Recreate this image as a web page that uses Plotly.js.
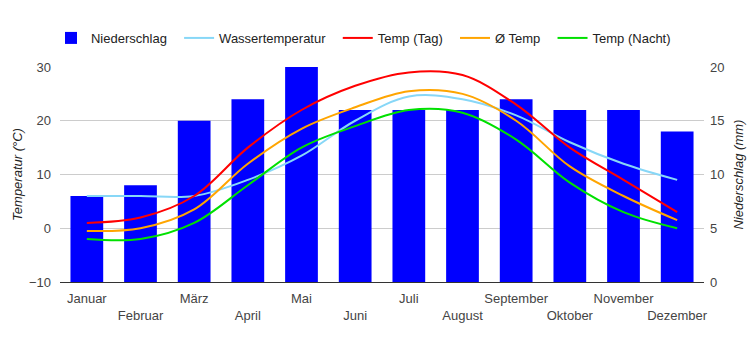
<!DOCTYPE html>
<html>
<head>
<meta charset="utf-8">
<script src="https://cdn.plot.ly/plotly-3.0.1.min.js"></script>
<style>html,body{margin:0;padding:0;background:#fff;}#chart{width:750px;height:350px;}</style>
</head>
<body>
<div id="chart"></div>
<script>
const months = ["Januar","Februar","März","April","Mai","Juni","Juli","August","September","Oktober","November","Dezember"];
const niederschlag = [8, 9, 15, 17, 20, 16, 16, 16, 17, 16, 16, 14];
const wassertemperatur = [6, 6, 6, 9, 13.5, 20, 24.5, 24, 21, 16, 12, 9];
const tempTag = [1, 2, 6, 15, 22, 26.5, 29, 28.5, 23, 15, 9, 3];
const tempMittel = [-0.5, 0, 3.5, 12, 18.5, 22.5, 25.5, 25, 20, 11.5, 6, 1.5];
const tempNacht = [-2, -2, 1, 8, 15, 19, 22, 21.5, 16.5, 8.5, 3, 0];

const idx = months.map((m, i) => i);
const tickLabels = months.map((m, i) => i % 2 === 0 ? m : "<br>" + m);
const pad = "\u00a0\u00a0";

function line(name, y, color) {
  return {type: "scatter", mode: "lines", name: name + pad, x: idx, y: y, yaxis: "y2",
    line: {color: color, width: 2, shape: "spline", smoothing: 1}, hoverinfo: "skip"};
}

const data = [
  {type: "bar", name: "Niederschlag" + pad, x: idx, y: niederschlag, yaxis: "y",
   marker: {color: "#0000ff"}, hoverinfo: "skip"},
  line("Wassertemperatur", wassertemperatur, "#87d7f7"),
  line("Temp (Tag)", tempTag, "#ff0000"),
  line("Ø Temp", tempMittel, "#ffa500"),
  line("Temp (Nacht)", tempNacht, "#00e000")
];

const font = {family: "Liberation Sans, Arial, sans-serif", size: 13, color: "#222"};
const layout = {
  width: 750, height: 350,
  margin: {l: 60, r: 46, t: 67, b: 68},
  paper_bgcolor: "#fff", plot_bgcolor: "#fff",
  font: font,
  showlegend: true,
  bargap: 0.39,
  legend: {orientation: "h", x: -0.014, xanchor: "left", y: 1.135, yanchor: "middle",
    font: {family: font.family, size: 13, color: "#222"}, traceorder: "normal", itemwidth: 30},
  xaxis: {range: [-0.5, 11.5], tickmode: "array", tickvals: idx, ticktext: tickLabels,
    tickangle: 0, showgrid: false, zeroline: false, showline: true, linecolor: "#333", linewidth: 1,
    ticks: "", ticklabelstandoff: 4, tickfont: {size: 13, color: "#444"}, fixedrange: true},
  yaxis: {range: [0, 20], dtick: 5, side: "right", showgrid: true, gridcolor: "#cccccc",
    zeroline: false, ticks: "", ticklabelstandoff: 5, tickfont: {size: 13, color: "#444"},
    title: {text: "<i>Niederschlag (mm)</i>", font: {size: 13, color: "#222"}, standoff: 10}},
  yaxis2: {range: [-10, 30], dtick: 10, side: "left", overlaying: "y", showgrid: false,
    zeroline: false, ticks: "", ticklabelstandoff: 8, tickfont: {size: 13, color: "#444"},
    title: {text: "<i>Temperatur (°C)</i>", font: {size: 13, color: "#222"}, standoff: 3}}
};

Plotly.newPlot("chart", data, layout, {displayModeBar: false, staticPlot: true});
</script>
</body>
</html>
